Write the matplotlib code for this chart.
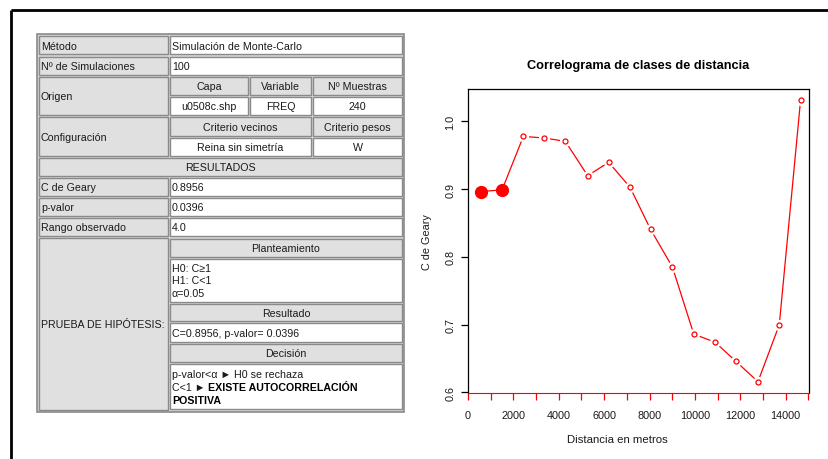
import numpy as np
import matplotlib
matplotlib.use("Agg")
import matplotlib.pyplot as plt
from matplotlib.patches import Rectangle
from matplotlib.ticker import MultipleLocator

plt.rcParams['font.family'] = ['Liberation Sans', 'DejaVu Sans']

# datos del correlograma
distancia = [560, 1500, 2440, 3365, 4290, 5275, 6200, 7140, 8050,
             9010, 9950, 10890, 11810, 12780, 13720, 14660]
geary = [0.8965, 0.899, 0.978, 0.9756, 0.9707, 0.920, 0.9397, 0.903, 0.8405,
         0.785, 0.686, 0.674, 0.6457, 0.6157, 0.6997, 1.032]
significativo = [True, True] + [False] * 14

# textos de la tabla
filas_simples = [
    ("Método", "Simulación de Monte-Carlo"),
    ("Nº de Simulaciones", "100"),
]
origen_cab = ["Capa", "Variable", "Nº Muestras"]
origen_val = ["u0508c.shp", "FREQ", "240"]
config_cab = ["Criterio vecinos", "Criterio pesos"]
config_val = ["Reina sin simetría", "W"]
resultados = [
    ("C de Geary", "0.8956"),
    ("p-valor", "0.0396"),
    ("Rango observado", "4.0"),
]
planteamiento = ["H0: C≥1", "H1: C<1", "α=0.05"]
resultado_txt = "C=0.8956, p-valor= 0.0396"

W, H = 829, 460
fig = plt.figure(figsize=(W / 100, H / 100), dpi=100)
bg = fig.add_axes([0, 0, 1, 1])
bg.set_xlim(0, W)
bg.set_ylim(H, 0)
bg.axis('off')

FS = 7.7
GRIS = '#e0e0e0'
BORDE = '#8a8a8a'
TXT = '#1a1a1a'


def celda(x0, y0, x1, y1, fill='white', texto=None, centro=False):
    bg.add_patch(Rectangle((x0, y0), x1 - x0, y1 - y0, facecolor=fill,
                           edgecolor=BORDE, linewidth=1.0))
    if texto is not None:
        if centro:
            bg.text((x0 + x1) / 2, (y0 + y1) / 2 + 0.5, texto, ha='center', va='center', fontsize=FS, color=TXT)
        else:
            bg.text(x0 + 2, (y0 + y1) / 2 + 0.5, texto, ha='left', va='center', fontsize=FS, color=TXT)


# marco exterior (solo arriba e izquierda)
bg.plot([11, W], [11, 11], color='black', lw=2.0, solid_capstyle='butt')
bg.plot([11, 11], [11, H], color='black', lw=2.0, solid_capstyle='butt')

# fondo de la tabla
bg.add_patch(Rectangle((37, 35), 367, 378, facecolor='#d6d6d6', edgecolor='#8a8a8a', linewidth=1.2))

L0, L1, V0, V1 = 39, 168, 170, 402
c1, c2 = 248, 250
c3, c4 = 311, 313

y = 37
for lab, val in filas_simples:
    celda(L0, y, L1, y + 18, GRIS, lab)
    celda(V0, y, V1, y + 18, 'white', val)
    y += 20.5

# Origen
celda(L0, 78, L1, 116, GRIS, "Origen")
for (a, b), cab, val in zip([(V0, c1), (c2, c3), (c4, V1)], origen_cab, origen_val):
    celda(a, 78, b, 96, GRIS, cab, centro=True)
    celda(a, 98, b, 116, 'white', val, centro=True)

# Configuración
celda(L0, 118, L1, 157, GRIS, "Configuración")
for (a, b), cab, val in zip([(V0, c3), (c4, V1)], config_cab, config_val):
    celda(a, 118, b, 137, GRIS, cab, centro=True)
    celda(a, 139, b, 157, 'white', val, centro=True)

celda(L0, 159, V1, 177, GRIS, "RESULTADOS", centro=True)

y = 179
for lab, val in resultados:
    celda(L0, y, L1, y + 18, GRIS, lab)
    celda(V0, y, V1, y + 18, 'white', val)
    y += 20

# Prueba de hipótesis
celda(L0, 239, L1, 411, GRIS, "PRUEBA DE HIPÓTESIS:")
celda(V0, 240, V1, 258, GRIS, "Planteamiento", centro=True)
celda(V0, 260, V1, 303, 'white')
for i, t in enumerate(planteamiento):
    bg.text(V0 + 2, 269 + i * 12.5, t, ha='left', va='center', fontsize=FS, color=TXT)
celda(V0, 305, V1, 322, GRIS, "Resultado", centro=True)
celda(V0, 324, V1, 343, 'white', resultado_txt)
celda(V0, 345, V1, 363, GRIS, "Decisión", centro=True)
celda(V0, 365, V1, 410, 'white')
bg.text(V0 + 2, 375, "p-valor<α ► H0 se rechaza", ha='left', va='center', fontsize=FS, color=TXT)
t1 = bg.text(V0 + 2, 388, "C<1 ► ", ha='left', va='center', fontsize=FS, color=TXT)
fig.canvas.draw()
bb = t1.get_window_extent()
x_data = bg.transData.inverted().transform((bb.x1, 0))[0]
bg.text(x_data, 388, "EXISTE AUTOCORRELACIÓN", ha='left', va='center', fontsize=FS, fontweight='bold', color='#000000')
bg.text(V0 + 2, 401, "POSITIVA", ha='left', va='center', fontsize=FS, fontweight='bold', color='#000000')

# correlograma
ax = fig.add_axes([468 / W, 1 - 394 / H, (809 - 468) / W, (394 - 90) / H])
dist = np.array(distancia)
g = np.array(geary)
sig = np.array(significativo)
ax.plot(dist, g, color='red', lw=0.9, zorder=1)
ax.plot(dist[~sig], g[~sig], 'o', ms=7, mfc='white', mec='white', zorder=2)
ax.plot(dist[~sig], g[~sig], 'o', ms=3.6, mfc='white', mec='red', mew=0.9, zorder=3)
ax.plot(dist[sig], g[sig], 'o', ms=8.5, color='red', zorder=3)
ax.set_xlim(0, 15030)
ax.set_ylim(0.599, 1.048)
ax.xaxis.set_major_locator(MultipleLocator(2000))
ax.xaxis.set_minor_locator(MultipleLocator(1000))
ax.set_yticks([0.6, 0.7, 0.8, 0.9, 1.0])
ax.set_yticklabels(["0.6", "0.7", "0.8", "0.9", "1.0"], rotation=90, va='center')
ax.tick_params(axis='x', which='both', colors='red', labelcolor=TXT, length=5, width=0.9, labelsize=7.8, pad=7)
ax.tick_params(axis='y', length=5, width=0.9, labelsize=7.8, pad=4, labelcolor=TXT)
ax.spines['bottom'].set_color('red')
for s in ['top', 'left', 'right']:
    ax.spines[s].set_linewidth(0.9)
ax.set_xlabel("Distancia en metros", fontsize=8.2, color=TXT)
ax.xaxis.set_label_coords((617 - 468) / (809 - 468), -(440 - 394) / (394 - 90), transform=ax.transAxes)
ax.xaxis.label.set_va('center')
ax.set_ylabel("C de Geary", fontsize=7.8, labelpad=10, color=TXT)
ax.set_title("Correlograma de clases de distancia", fontsize=9.2, fontweight='bold', pad=15)

fig.savefig("out.png", dpi=100)
